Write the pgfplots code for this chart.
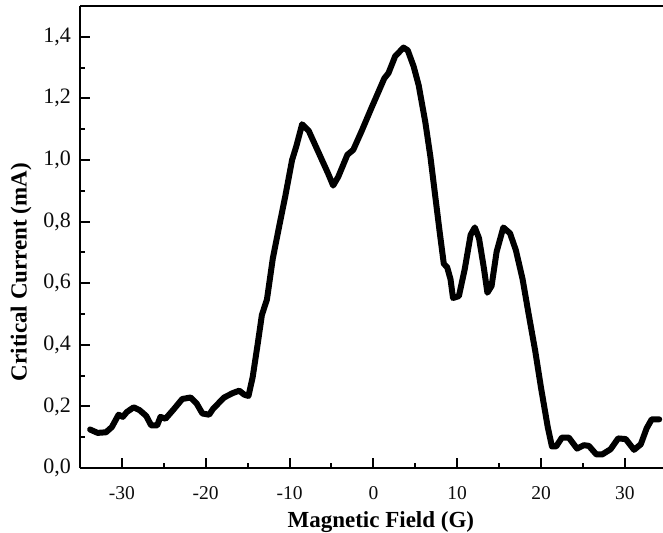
\documentclass[border=0pt]{standalone}
\usepackage{fontspec}
\setmainfont{Liberation Serif}
\usepackage{pgfplots}
\pgfplotsset{compat=1.18}
\definecolor{ink}{RGB}{12,12,12}
\newcommand\xtf{\fontsize{19.5bp}{22bp}\selectfont}
\newcommand\ytf{\fontsize{22bp}{25bp}\selectfont}

\begin{document}
\begin{tikzpicture}
\begin{axis}[
    scale only axis,
    width=583bp, height=462bp,
    xmin=-35, xmax=34.55,
    ymin=0, ymax=1.5,
    axis lines*=left,
    axis line style={line width=2.4bp},
    tick align=inside,
    major tick length=10bp,
    minor tick length=5bp,
    tick style={black, line width=2bp},
    xtick={-30,-20,-10,0,10,20,30},
    xticklabels={{\xtf -30},{\xtf -20},{\xtf -10},{\xtf 0},{\xtf 10},{\xtf 20},{\xtf 30}},
    minor x tick num=1,
    ytick={0,0.2,0.4,0.6,0.8,1.0,1.2,1.4},
    yticklabels={{\ytf 0,0},{\ytf 0,2},{\ytf 0,4},{\ytf 0,6},{\ytf 0,8},{\ytf 1,0},{\ytf 1,2},{\ytf 1,4}},
    minor y tick num=1,
    xticklabel style={text=ink, inner sep=0pt, anchor=north, yshift=-18bp},
    yticklabel style={text=ink, inner sep=0pt, anchor=east, xshift=-9bp},
    xlabel={Magnetic Field (G)},
    ylabel={Critical Current (mA)},
    label style={font=\fontsize{23bp}{26bp}\selectfont\bfseries},
    xlabel style={at={(rel axis cs:0.516,0)}, anchor=base, yshift=-59bp},
    ylabel style={at={([xshift=-59bp]rel axis cs:0,0.424)}, anchor=center},
    clip=false,
]
\addplot[black, line width=6bp, line join=round, line cap=round] coordinates {
(-33.8,0.125) (-32.9,0.114) (-31.9,0.116) (-31.2,0.133) (-30.4,0.173)
(-29.9,0.166) (-29.4,0.182) (-28.6,0.197) (-27.9,0.188) (-27.1,0.169)
(-26.5,0.138) (-25.8,0.138) (-25.4,0.166) (-24.8,0.160) (-23.9,0.188)
(-22.8,0.224) (-21.8,0.229) (-21.1,0.210) (-20.4,0.177) (-19.6,0.173)
(-19.1,0.193) (-17.8,0.229) (-16.8,0.243) (-16.0,0.251) (-15.4,0.238)
(-14.9,0.234) (-14.4,0.295) (-13.8,0.403) (-13.3,0.497) (-12.7,0.547)
(-12.0,0.680) (-11.2,0.790) (-10.5,0.884) (-9.7,1.000) (-9.2,1.044)
(-8.5,1.116) (-7.7,1.094) (-6.5,1.022) (-5.4,0.956) (-4.8,0.917)
(-4.2,0.945) (-3.1,1.017) (-2.4,1.033) (-1.4,1.094) (-0.2,1.171)
(0.6,1.221) (1.3,1.265) (1.8,1.282) (2.6,1.337) (3.6,1.365)
(4.1,1.356) (4.8,1.304) (5.4,1.243) (6.2,1.122) (6.8,1.011)
(7.4,0.878) (7.9,0.768) (8.4,0.663) (8.8,0.652) (9.2,0.613)
(9.5,0.552) (10.2,0.558) (10.9,0.646) (11.6,0.757) (12.1,0.781)
(12.6,0.746) (13.2,0.646) (13.6,0.569) (14.1,0.591) (14.7,0.702)
(15.5,0.781) (16.3,0.762) (17.0,0.707) (17.8,0.613) (18.5,0.503)
(19.3,0.381) (20.0,0.260) (20.8,0.133) (21.3,0.070) (21.8,0.070)
(22.5,0.099) (23.3,0.099) (24.3,0.063) (25.1,0.074) (25.7,0.072)
(26.6,0.044) (27.3,0.044) (28.3,0.061) (29.2,0.096) (30.1,0.094)
(31.1,0.059) (31.9,0.077) (32.6,0.129) (33.2,0.158) (34.1,0.158)
};
% top frame line (the right side of the frame is cropped in the original)
\draw[line width=2.4bp] (rel axis cs:0,1) -- (rel axis cs:1,1);
\coordinate (ll) at (rel axis cs:0,0);
\coordinate (ur) at (rel axis cs:1,1);
\end{axis}
\pgfresetboundingbox
\path[use as bounding box] ([xshift=-80bp,yshift=-65bp]ll) rectangle ([yshift=6bp]ur);
\end{tikzpicture}
\end{document}
